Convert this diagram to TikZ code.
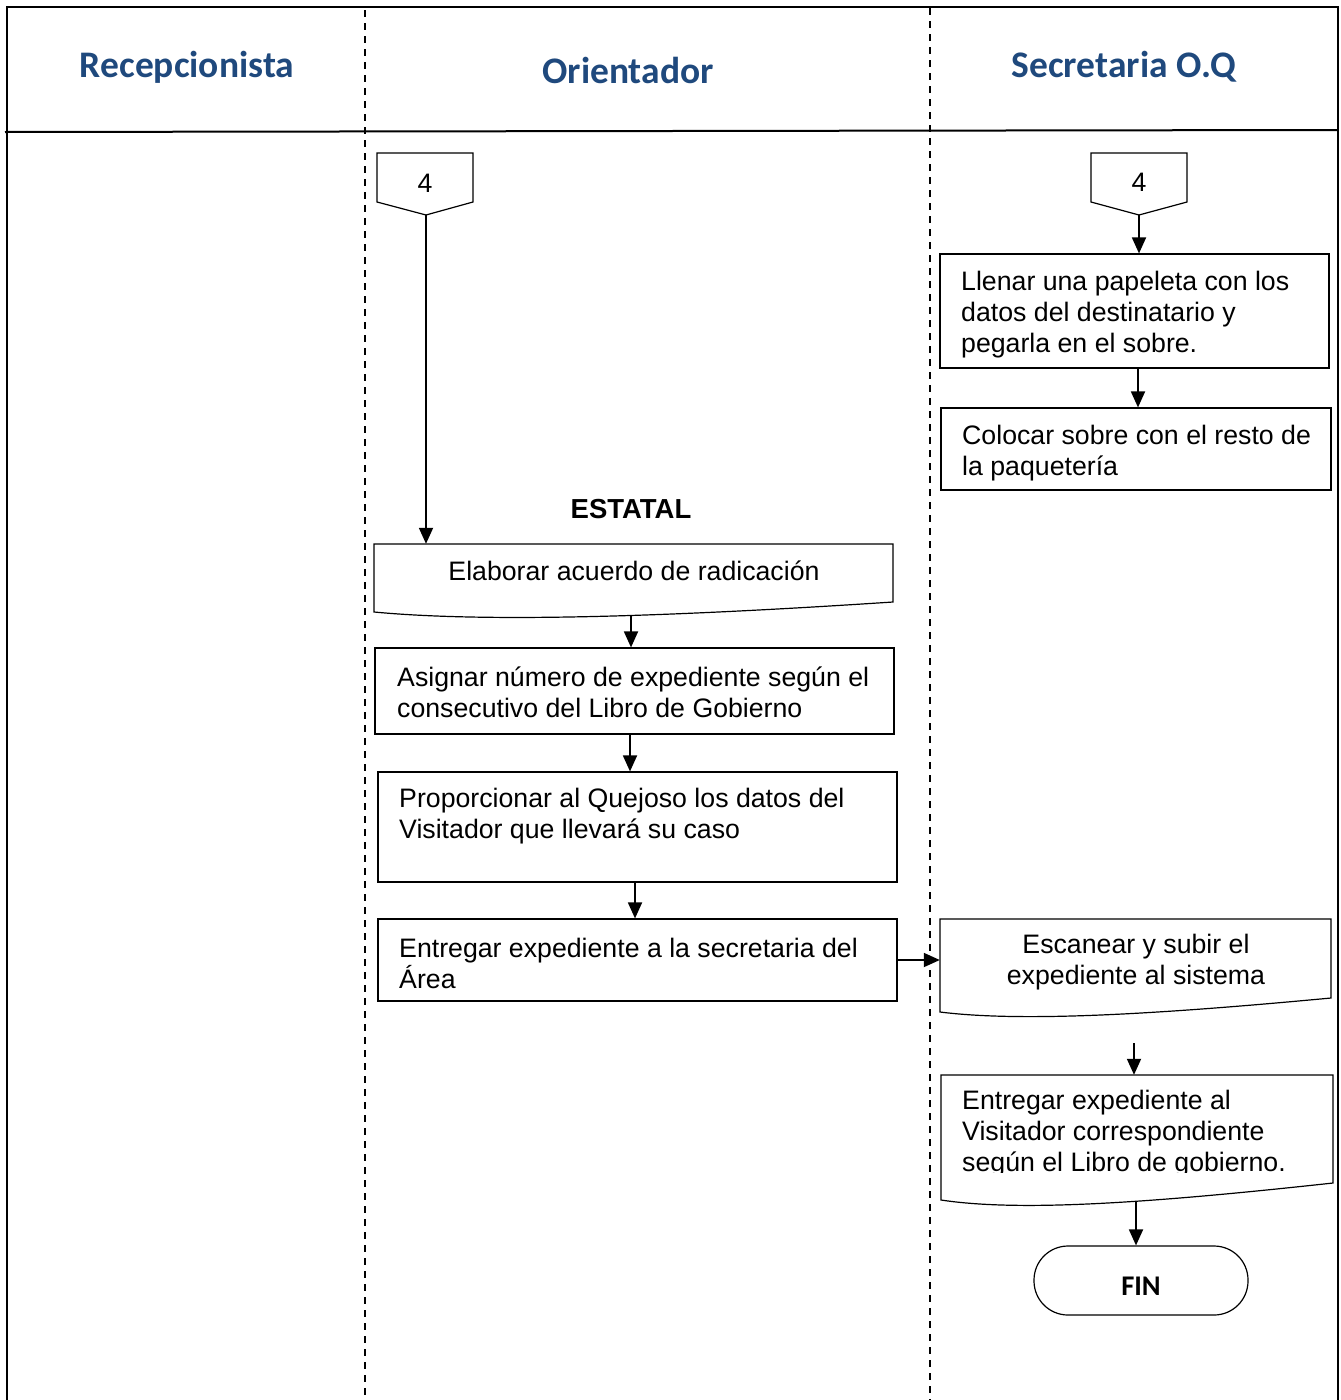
\documentclass[tikz,border=0pt]{standalone}
\usepackage{fontspec}
\setmainfont{Liberation Sans}
\newfontfamily\calibri{Carlito}
\usetikzlibrary{arrows.meta,calc}
\definecolor{hdrblue}{HTML}{1F497D}
\tikzset{
  lanesep/.style={line width=1.5pt, dash pattern=on 7pt off 6pt},
  boxst/.style={draw, line width=1.2pt, inner sep=0pt},
  ghost/.style={draw=none, inner sep=0pt},
  arr/.style={line width=1.8pt, -{Triangle[length=16pt,width=14pt]}},
  txt/.style={font=\fontsize{26.7}{31}\selectfont, align=left, inner sep=0pt},
  hdr/.style={font=\calibri\bfseries\fontsize{37.5}{44}\selectfont, text=hdrblue, inner sep=0pt},
}
\begin{document}
\begin{tikzpicture}[x=1pt,y=-1pt]
\useasboundingbox (0,0) rectangle (1341,1400);
% frame
\draw[line width=1.4pt] (7,1400) -- (7,7) -- (1338,7) -- (1338,1400);
\draw[line width=2pt] (5,132) -- (1338,130);
\draw[lanesep] (365,10) -- (365,1400);
\draw[lanesep] (930,8) -- (930,1400);
% headers
\node[hdr] (h1) at (187,67) {Recepcionista};
\node[hdr] (h2) at (628,70) {Orientador};
\node[hdr] (h3) at (1124,67) {Secretaria O.Q};
% off-page connectors
\draw[line width=1.2pt] (377,153) -- (473,153) -- (473,202) -- (426,215) -- (377,202) -- cycle;
\node[txt] (c4a) at (425,183) {4};
\coordinate (c4aTip) at (426,215);
\draw[line width=1.2pt] (1091,153) -- (1187,153) -- (1187,202) -- (1139,215) -- (1091,202) -- cycle;
\node[txt] (c4b) at (1139,182) {4};
\coordinate (c4bTip) at (1139,215);
% Secretaria boxes
\node[boxst, minimum width=389pt, minimum height=114pt] (llenar) at (1134.5,311) {};
\node[txt, anchor=west] (llenarT) at (961,315) {Llenar una papeleta con los\\datos del destinatario y\\pegarla en el sobre.};
\node[boxst, minimum width=390pt, minimum height=82pt] (colocar) at (1136,449) {};
\node[txt, anchor=west] (colocarT) at (962,453) {Colocar sobre con el resto de\\la paquetería};
% ESTATAL
\node[txt, font=\bfseries\fontsize{27.5}{31}\selectfont] (estatal) at (631,509) {ESTATAL};
% Elaborar (document)
\node[ghost, minimum width=519pt, minimum height=68pt] (elab) at (633.5,578) {};
\draw[line width=1.2pt] (374,544) -- (893,544) -- (893,602) .. controls (650,618) and (480,622) .. (374,612) -- cycle;
\node[txt] (elabT) at (634,571) {Elaborar acuerdo de radicación};
\coordinate (elabB) at (631,615);
% Orientador boxes
\node[boxst, minimum width=519pt, minimum height=86pt] (asig) at (634.5,691) {};
\node[txt, anchor=west] (asigT) at (397,692) {Asignar número de expediente según el\\consecutivo del Libro de Gobierno};
\node[boxst, minimum width=519pt, minimum height=110pt] (prop) at (637.5,827) {};
\node[txt, anchor=west] (propT) at (399,816) {Proporcionar al Quejoso los datos del\\Visitador que llevará su caso};
\node[boxst, minimum width=519pt, minimum height=82pt] (ent) at (637.5,960) {};
\node[txt, anchor=west] (entT) at (399,963) {Entregar expediente a la secretaria del\\Área};
% Escanear (document)
\node[ghost, minimum width=391pt, minimum height=93pt] (esc) at (1135.5,965.5) {};
\draw[line width=1.2pt] (940,919) -- (1331,919) -- (1331,998) .. controls (1150,1015) and (1020,1022) .. (940,1012) -- cycle;
\node[txt, align=center] (escT) at (1136,962) {Escanear y subir el\\expediente al sistema};
\coordinate (escArr) at (1134,1043);
% Entregar al visitador (document)
\node[ghost, minimum width=392pt, minimum height=125pt] (ent2) at (1137,1137.5) {};
\draw[line width=1.2pt] (941,1075) -- (1333,1075) -- (1333,1183) .. controls (1150,1203) and (1020,1212) .. (941,1200) -- cycle;
\begin{scope}
\clip (941,1078) rectangle (1333,1172);
\node[txt, anchor=west] (ent2T) at (962,1134) {Entregar expediente al\\Visitador correspondiente\\según el Libro de gobierno.};
\end{scope}
\coordinate (ent2B) at (1136,1201);
% FIN
\node[draw, line width=1.2pt, rounded corners=34pt, minimum width=214pt, minimum height=69pt, font=\calibri\bfseries\fontsize{28.5}{32}\selectfont] (fin) at (1141,1280.5) {\raisebox{-14.5pt}[0pt][0pt]{FIN}};
% connectors
\draw[arr] (c4aTip) -- (c4aTip |- elab.north);
\draw[arr] (c4bTip) -- (c4bTip |- llenar.north);
\draw[arr] ([xshift=3.5pt]llenar.south) -- ([xshift=3.5pt]llenar.south |- colocar.north);
\draw[arr] (elabB) -- (elabB |- asig.north);
\draw[arr] ([xshift=-4.5pt]asig.south) -- ([xshift=-4.5pt]asig.south |- prop.north);
\draw[arr] ([xshift=-2.5pt]prop.south) -- ([xshift=-2.5pt]prop.south |- ent.north);
\draw[arr] (ent.east) -- (ent.east -| esc.west);
\draw[arr] (escArr) -- (escArr |- ent2.north);
\draw[arr] (ent2B) -- (ent2B |- fin.north);
\end{tikzpicture}
\end{document}
